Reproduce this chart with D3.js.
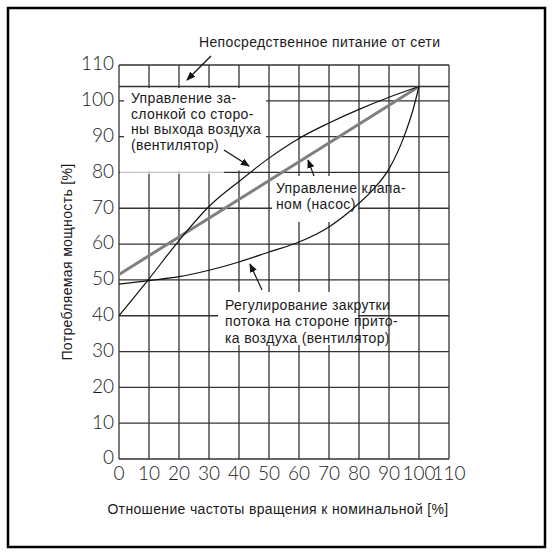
<!DOCTYPE html>
<html>
<head>
<meta charset="utf-8">
<script src="https://cdn.jsdelivr.net/npm/d3@7"></script>
<style>
  html, body { margin: 0; padding: 0; background: #fff; }
  svg { display: block; }
  .lbl { font-family: "Liberation Sans", Arial, sans-serif; fill: #1a1a1a; letter-spacing: 0.35px; }
  .tick { font-family: Lato, "Open Sans", sans-serif; font-weight: 300; fill: #1a1a1a; }
</style>
</head>
<body>
<svg id="chart" width="552" height="555"></svg>
<script>
// Speed ratio (% of rated) and power consumption (%) for each control method
const speed = [0, 10, 20, 30, 40, 50, 60, 70, 80, 90, 100];
const damperOutlet = [40, 50.3, 61, 70.5, 77.5, 84, 89.5, 93.8, 97.6, 101, 104];
const swirlSpeed = [0, 10, 20, 30, 40, 50, 60, 70, 80, 85, 90, 95, 98, 100];
const swirlInlet = [48.8, 49.8, 50.9, 52.7, 55, 57.8, 60.6, 64.8, 71.4, 75.5, 81, 90, 97.5, 104];
const valveSpeed = [0, 100];
const valvePump = [51.5, 104];
const directSupply = 104;

const xTicks = [0, 10, 20, 30, 40, 50, 60, 70, 80, 90, 100, 110];
const yTicks = [0, 10, 20, 30, 40, 50, 60, 70, 80, 90, 100, 110];

const svg = d3.select("#chart");

// frame
svg.append("rect").attr("x", 8).attr("y", 8).attr("width", 537).attr("height", 539)
  .attr("fill", "none").attr("stroke", "#000").attr("stroke-width", 2.5);

const x = d3.scaleLinear().domain([0, 110]).range([119, 449]);
const y = d3.scaleLinear().domain([0, 110]).range([459, 65]);

// grid
const grid = svg.append("g").attr("stroke", "#333").attr("stroke-width", 1.3);
grid.selectAll("line.v").data(xTicks).join("line")
  .attr("x1", d => x(d)).attr("x2", d => x(d)).attr("y1", y(0)).attr("y2", y(110));
grid.selectAll("line.h").data(yTicks).join("line")
  .attr("y1", d => y(d)).attr("y2", d => y(d)).attr("x1", x(0)).attr("x2", x(110));
// direct mains supply level
grid.append("line").attr("x1", x(0)).attr("x2", x(110))
  .attr("y1", y(directSupply)).attr("y2", y(directSupply));

// white backing behind the annotations
svg.append("rect").attr("x", 124).attr("y", 88).attr("width", 142).attr("height", 82.5).attr("fill", "#fff");
svg.append("rect").attr("x", 120).attr("y", 170).attr("width", 104).attr("height", 4).attr("fill", "#fff").attr("opacity", 0.7);
svg.append("rect").attr("x", 272).attr("y", 176).attr("width", 86).attr("height", 46).attr("fill", "#fff");
svg.append("rect").attr("x", 218).attr("y", 292).attr("width", 140).attr("height", 53).attr("fill", "#fff");

// tick labels
svg.append("g").selectAll("text").data(yTicks).join("text").attr("class", "tick")
  .attr("x", 114).attr("y", d => y(d) - 1.5).attr("dy", "0.36em")
  .attr("text-anchor", "end").attr("font-size", 19).text(d => d);
svg.append("g").selectAll("text").data(xTicks).join("text").attr("class", "tick")
  .attr("x", d => x(d)).attr("y", 480)
  .attr("text-anchor", "middle").attr("font-size", 19).text(d => d);

// curves
const line = d3.line().x(d => x(d[0])).y(d => y(d[1])).curve(d3.curveMonotoneX);
svg.append("path").datum(d3.zip(valveSpeed, valvePump)).attr("d", line)
  .attr("fill", "none").attr("stroke", "#7f7f7f").attr("stroke-width", 3);
svg.append("path").datum(d3.zip(speed, damperOutlet)).attr("d", line)
  .attr("fill", "none").attr("stroke", "#111").attr("stroke-width", 1.2);
svg.append("path").datum(d3.zip(swirlSpeed, swirlInlet)).attr("d", line)
  .attr("fill", "none").attr("stroke", "#111").attr("stroke-width", 1.2);

// arrows
svg.append("defs").append("marker").attr("id", "ah").attr("viewBox", "0 0 10 10")
  .attr("refX", 9).attr("refY", 5).attr("markerWidth", 9).attr("markerHeight", 9)
  .attr("markerUnits", "userSpaceOnUse").attr("orient", "auto")
  .append("path").attr("d", "M0,1 L10,5 L0,9 Z").attr("fill", "#111");
const arrows = [
  [211, 56, 187, 80],
  [224, 150, 249, 166],
  [314, 176, 308, 160],
  [262, 290, 250, 264]
];
svg.append("g").selectAll("line").data(arrows).join("line")
  .attr("x1", d => d[0]).attr("y1", d => d[1]).attr("x2", d => d[2]).attr("y2", d => d[3])
  .attr("stroke", "#111").attr("stroke-width", 1.2).attr("marker-end", "url(#ah)");

// annotations
function block(x0, y0, lines, lh) {
  svg.append("g").selectAll("text").data(lines).join("text").attr("class", "lbl")
    .attr("x", x0).attr("y", (d, i) => y0 + i * lh).attr("dy", "0.35em")
    .attr("font-size", 14).text(d => d);
}
block(199, 42, ["Непосредственное питание от сети"], 16);
block(131, 98, ["Управление за-", "слонкой со сторо-", "ны выхода воздуха", "(вентилятор)"], 15.7);
block(276, 188.5, ["Управление клапа-", "ном (насос)"], 15.7);
block(225, 305, ["Регулирование закрутки", "потока на стороне прито-", "ка воздуха (вентилятор)"], 16.3);

// axis titles
svg.append("text").attr("class", "lbl").attr("font-size", 14).attr("text-anchor", "middle")
  .attr("transform", "translate(67,262) rotate(-90)").attr("dy", "0.35em")
  .text("Потребляемая мощность [%]");
svg.append("text").attr("class", "lbl").attr("font-size", 14).attr("text-anchor", "middle")
  .attr("x", 278).attr("y", 509).attr("dy", "0.35em")
  .text("Отношение частоты вращения к номинальной [%]");
</script>
</body>
</html>
